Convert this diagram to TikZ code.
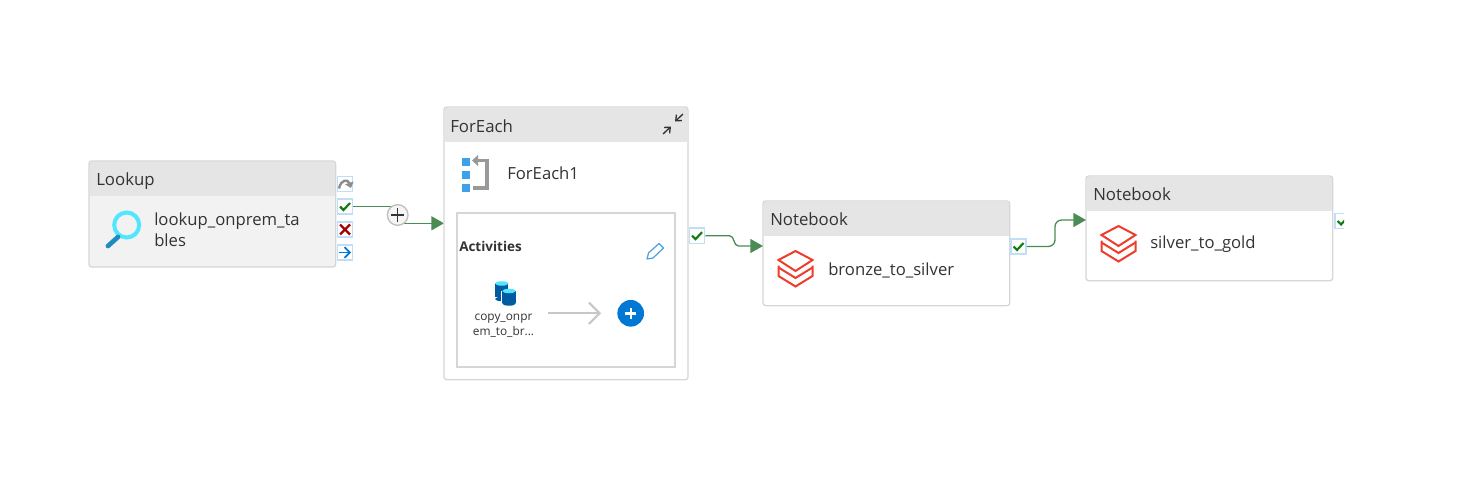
\documentclass[tikz,border=0pt]{standalone}
\usepackage{fontspec}
\setmainfont{Open Sans}
\usetikzlibrary{arrows.meta,backgrounds}
\definecolor{headgray}{RGB}{229, 229, 229}
\definecolor{cardline}{RGB}{214, 214, 214}
\definecolor{portblue}{RGB}{190, 222, 250}
\definecolor{wiregreen}{RGB}{74, 140, 84}
\definecolor{checkgreen}{RGB}{16, 124, 16}
\definecolor{crossred}{RGB}{168, 0, 0}
\definecolor{azureblue}{RGB}{0, 120, 212}
\definecolor{dbred}{RGB}{238, 61, 44}
\definecolor{dbblue}{RGB}{0, 91, 161}
\definecolor{lenscyan}{RGB}{80, 230, 255}
\definecolor{lenshandle}{RGB}{30, 140, 190}
\definecolor{stepblue}{RGB}{60, 160, 235}
\tikzset{
  card/.style={draw=cardline, line width=1pt, rounded corners=2pt, fill=white, minimum width=185pt, outer sep=0pt, anchor=north west},
  headbar/.style={fill=headgray, minimum width=184pt, minimum height=25.5pt, outer sep=0pt, anchor=north west, inner sep=0pt},
  headtext/.style={anchor=west, inner sep=0pt, font=\fontsize{12.6}{14}\selectfont, text=black!80},
  nametext/.style={anchor=west, inner sep=0pt, align=left, font=\fontsize{12.5}{15.6}\selectfont, text=black!80},
  portbox/.style={draw=portblue, line width=1.2pt, fill=white, minimum size=11.5pt, inner sep=0pt},
  wire/.style={draw=wiregreen, line width=1pt, -{Triangle[length=9.5pt, width=10.5pt]}},
  plainwire/.style={draw=wiregreen, line width=1pt},
  oktick/.style={draw=checkgreen, line width=1.6pt},
  pics/dblogo/.style={code={
    \draw[dbred, line width=1.5pt, line join=miter]
      (-17,-2) -- (0,-11) -- (17,-2) -- (0,9) -- cycle;
    \draw[dbred, line width=1.5pt]
      (-17,5.5) -- (0,16) -- (17,5.5);
    \draw[dbred, line width=1.5pt]
      (-17,3.5) -- (-17,14) -- (0,24.5) -- (17,14) -- (17,3.5);
  }},
  pics/oktickmark/.style={code={
    \draw[oktick] (-5,0) -- (-1.5,3.5) -- (5,-3.5);
  }}
}
\begin{document}
\begin{tikzpicture}[x=0.75pt, y=-0.75pt, >=Latex]
  \useasboundingbox (0,0) rectangle (1474,496);
  % lookup card
  \node[card, minimum height=79.5pt, fill=black!5] (lookup) at (89,161) {};
  \node[headbar] (lookupHead) at (89.5,161.5) {};
  \node[headtext] (lookupType) at (96,181) {Lookup};
  \node[nametext] (lookupName) at (154,230) {lookup\_onprem\_ta\\bles};
  \draw[lenscyan, line width=3pt] (126.7,225) circle (12.5);
  \draw[lenshandle, line width=3.5pt, line cap=round] (118,237) -- (108,246);
  % lookup ports
  \node[portbox] (lookupSkip) at (345,184) {};
  \node[portbox] (lookupOk) at (345,206.5) {};
  \node[portbox] (lookupFail) at (345,229.5) {};
  \node[portbox] (lookupDone) at (345,252.5) {};
  \draw[black!45, line width=1.8pt, -{Triangle[length=4pt, width=6.5pt]}] (339,188.5) .. controls (341,179) and (348,179) .. (351,188);
  \pic at (345,206.5) {oktickmark};
  \draw[crossred, line width=1.6pt] (340,224.5) -- (350,234.5) (350,224.5) -- (340,234.5);
  \draw[azureblue, line width=1.2pt, -{Straight Barb[length=4pt, width=8pt]}] (339,252.5) -- (351,252.5);
  % foreach card
  \node[card, minimum width=183pt, minimum height=204.5pt] (foreach) at (444,107) {};
  \node[headbar, minimum width=182pt] (foreachHead) at (444.5,107.5) {};
  \node[headtext] (foreachType) at (450,126) {ForEach};
  \node[nametext] (foreachName) at (507,173) {ForEach1};
  \draw[black!80, line width=1pt, -{Straight Barb[length=3.5pt, width=6pt]}] (663,134) -- (671,126.5);
  \draw[black!80, line width=1pt, -{Straight Barb[length=3.5pt, width=6pt]}] (683,114) -- (675,121.5);
  \foreach \y in {157.5, 170.5, 183.5} {
    \fill[stepblue] (462,\y) rectangle ++(8,8);
  }
  \draw[black!40, line width=2.3pt, -{Triangle[length=4.5pt, width=8pt]}] (473,188) -- (487,188) -- (487,160.5) -- (472,160.5);
  % activities box
  \node[draw=cardline, line width=1.5pt, minimum width=163.5pt, minimum height=115.5pt, outer sep=0pt, anchor=north west] (activities) at (456.5,212.5) {};
  \node[anchor=west, inner sep=0pt, font=\fontsize{10.1}{12}\selectfont\bfseries, text=black!80] (activitiesLabel) at (459,246.5) {Activities};
  \draw[azureblue!70!white, line width=0.9pt, line join=round] (647,259) -- (648.5,253) -- (659,243.5) -- (663.5,248) -- (653,258) -- cycle;
  \fill[dbblue] (495,283) rectangle (508.3,297);
  \fill[dbblue] (501.8,299) ellipse (6.7 and 2.2);
  \fill[lenscyan] (501.8,283.5) ellipse (6.7 and 2.2);
  \draw[white, line width=0.6pt] (501.8,291) -- (501.8,303);
  \fill[dbblue] (502.3,291) rectangle (515.7,303);
  \fill[dbblue] (509,303.5) ellipse (6.7 and 2.2);
  \fill[lenscyan] (509,291) ellipse (6.7 and 2.2);
  \node[anchor=center, inner sep=0pt, align=center, font=\fontsize{8.9}{11.2}\selectfont, text=black!80] (copyAct) at (503.5,326) {copy\_onpr\\em\_to\_br...};
  \node[circle, fill=azureblue, minimum size=20pt, inner sep=0pt,
    path picture={\draw[white, line width=1.8pt] ([xshift=-4.3pt]path picture bounding box.center) -- ([xshift=4.3pt]path picture bounding box.center) ([yshift=-4.3pt]path picture bounding box.center) -- ([yshift=4.3pt]path picture bounding box.center);}] (addAct) at (630.7,313.3) {};
  \coordinate (copyOut) at (548,313.3);
  \draw[black!22, line width=1.6pt, shorten >=12pt, -{Straight Barb[length=8pt, width=16pt]}] (copyOut) -- (addAct);
  % notebook cards
  \node[card, minimum height=78.5pt] (bronze) at (763,201) {};
  \node[headbar] (bronzeHead) at (763.5,201.5) {};
  \node[headtext] (bronzeType) at (770,219) {Notebook};
  \node[nametext] (bronzeName) at (828,270) {bronze\_to\_silver};
  \pic at (795.5,262) {dblogo};
  \node[card, minimum height=78.5pt] (silver) at (1086,176) {};
  \node[headbar] (silverHead) at (1086.5,176.5) {};
  \node[headtext] (silverType) at (1093,194) {Notebook};
  \node[nametext] (silverName) at (1150,244.5) {silver\_to\_gold};
  \pic at (1118.5,237) {dblogo};
  % ports
  \node[portbox] (foreachOk) at (697,235.7) {};
  \pic at (697,235.7) {oktickmark};
  \node[portbox] (bronzeOk) at (1018.5,246.5) {};
  \pic at (1018.5,246.5) {oktickmark};
  \begin{scope}
    \clip (1330,200) rectangle (1344,240);
    \node[portbox] (silverOk) at (1342.5,221) {};
    \pic at (1342.5,221) {oktickmark};
  \end{scope}
  % connectors
  \coordinate (foreachIn) at (444,223.3);
  \coordinate (bronzeIn) at (763,246);
  \coordinate (silverIn) at (1086,220);
  \coordinate (bronzeBend) at (1055,233);
  \node[circle, draw=black!25, line width=1pt, fill=black!4, minimum size=15.5pt, inner sep=0pt,
    path picture={\draw[black!80, line width=1pt] ([xshift=-5pt]path picture bounding box.center) -- ([xshift=5pt]path picture bounding box.center) ([yshift=-5pt]path picture bounding box.center) -- ([yshift=5pt]path picture bounding box.center);}] (plus) at (397.7,215) {};
  \begin{pgfonlayer}{background}
    \draw[plainwire] (lookupOk.east) -| (plus);
    \draw[wire] (plus) |- (foreachIn);
  \end{pgfonlayer}
  \draw[wire] (foreachOk.east) -- ++(24,0) to[out=0, in=180] ++(9,10.3) -- (bronzeIn);
  \draw[wire, rounded corners=5pt] (bronzeOk.east) -| (bronzeBend) |- (silverIn);
\end{tikzpicture}
\end{document}
